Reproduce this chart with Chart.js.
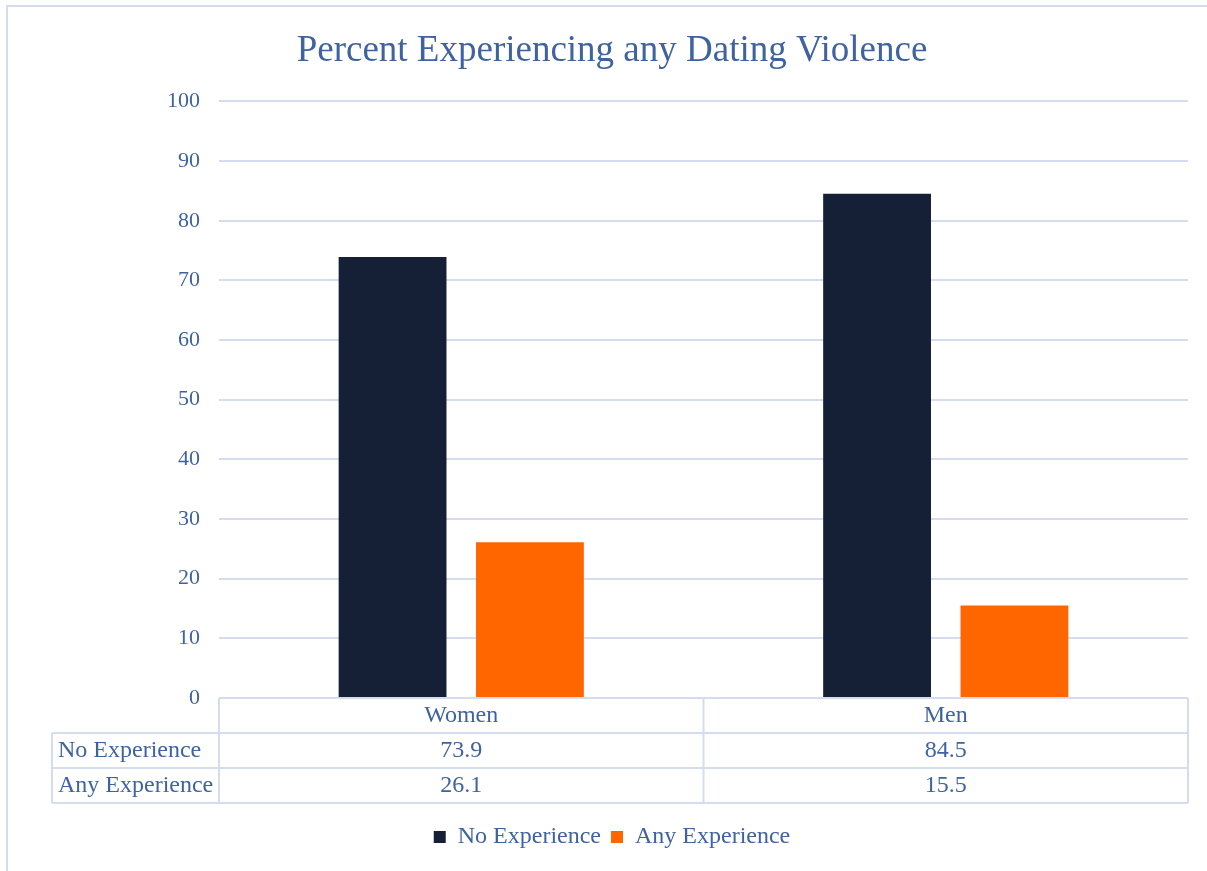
<!DOCTYPE html>
<html>
<head>
<meta charset="utf-8">
<script src="https://cdn.jsdelivr.net/npm/chart.js@4"></script>
<style>
    body { margin: 0; background: #ffffff; }
    #wrap { position: relative; width: 1207px; height: 871px; }
</style>
</head>
<body>
<div id="wrap"><canvas id="datingChart" width="1207" height="871"></canvas></div>
<script>
// Gegevens
const categorieen = ['Women', 'Men'];
const geenErvaring = [73.9, 84.5];
const welErvaring = [26.1, 15.5];
const reeksNamen = ['No Experience', 'Any Experience'];

const tekstKleur = '#3f63a0';
const lijnKleur = '#d3ddef';
const lettertype = '"Liberation Serif", "Times New Roman", serif';

// Rand om de hele figuur
const randPlugin = {
    id: 'rand',
    beforeDraw(chart) {
        const ctx = chart.ctx;
        ctx.save();
        ctx.strokeStyle = lijnKleur;
        ctx.lineWidth = 2;
        ctx.beginPath();
        ctx.moveTo(7, 871);
        ctx.lineTo(7, 6);
        ctx.lineTo(1207, 6);
        ctx.stroke();
        ctx.restore();
    }
};

// Datatabel onder de grafiek
const tabelPlugin = {
    id: 'datatabel',
    afterDraw(chart) {
        const ctx = chart.ctx;
        const area = chart.chartArea;
        const x = chart.scales.x;
        const rijHoogte = 35;
        const top = area.bottom;
        const labelLinks = 52;
        const breedte = (area.right - area.left) / categorieen.length;
        const rijen = [geenErvaring, welErvaring];

        ctx.save();
        ctx.strokeStyle = lijnKleur;
        ctx.lineWidth = 2;
        ctx.beginPath();
        // horizontale lijnen
        ctx.moveTo(area.left, top);
        ctx.lineTo(area.right, top);
        for (let r = 1; r <= 3; r++) {
            ctx.moveTo(labelLinks, top + r * rijHoogte);
            ctx.lineTo(area.right, top + r * rijHoogte);
        }
        // verticale lijnen
        ctx.moveTo(labelLinks, top + rijHoogte);
        ctx.lineTo(labelLinks, top + 3 * rijHoogte);
        for (let i = 0; i <= categorieen.length; i++) {
            const lx = area.left + i * breedte;
            ctx.moveTo(lx, top);
            ctx.lineTo(lx, top + 3 * rijHoogte);
        }
        ctx.stroke();

        ctx.fillStyle = tekstKleur;
        ctx.font = '24px ' + lettertype;
        ctx.textBaseline = 'middle';
        ctx.textAlign = 'center';
        categorieen.forEach((cat, i) => {
            const cx = x.getPixelForValue(i);
            ctx.fillText(cat, cx, top + rijHoogte / 2);
            rijen.forEach((rij, r) => {
                ctx.fillText(rij[i].toFixed(1), cx, top + (r + 1.5) * rijHoogte);
            });
        });
        ctx.textAlign = 'left';
        reeksNamen.forEach((naam, r) => {
            ctx.fillText(naam, labelLinks + 6, top + (r + 1.5) * rijHoogte);
        });
        ctx.restore();
    }
};

var ctx = document.getElementById('datingChart').getContext('2d');
var datingChart = new Chart(ctx, {
    type: 'bar',
    data: {
        labels: categorieen,
        datasets: [
            { label: reeksNamen[0], data: geenErvaring, backgroundColor: '#152036', borderWidth: 0 },
            { label: reeksNamen[1], data: welErvaring, backgroundColor: '#ff6600', borderWidth: 0 }
        ]
    },
    options: {
        responsive: false,
        animation: false,
        layout: { padding: { top: 10, right: 19, bottom: 12, left: 36 } },
        datasets: {
            bar: { categoryPercentage: 0.567, barPercentage: 0.785 }
        },
        scales: {
            x: {
                grid: { display: false },
                border: { display: false },
                ticks: { display: false },
                afterFit(scale) { scale.height = 117; }
            },
            y: {
                min: 0,
                max: 100,
                ticks: {
                    stepSize: 10,
                    padding: 19,
                    color: tekstKleur,
                    font: { family: lettertype, size: 22 }
                },
                grid: { color: lijnKleur, lineWidth: 2, drawTicks: false },
                border: { display: false },
                afterFit(scale) { scale.width = 183; }
            }
        },
        plugins: {
            title: {
                display: true,
                text: 'Percent Experiencing any Dating Violence',
                color: tekstKleur,
                font: { family: lettertype, size: 37, weight: 'normal' },
                padding: { top: 19, bottom: 28 }
            },
            legend: {
                position: 'bottom',
                labels: {
                    color: tekstKleur,
                    font: { family: lettertype, size: 24 },
                    boxWidth: 12,
                    boxHeight: 12,
                    padding: 10
                }
            },
            tooltip: { enabled: false }
        }
    },
    plugins: [randPlugin, tabelPlugin]
});
</script>
</body>
</html>
